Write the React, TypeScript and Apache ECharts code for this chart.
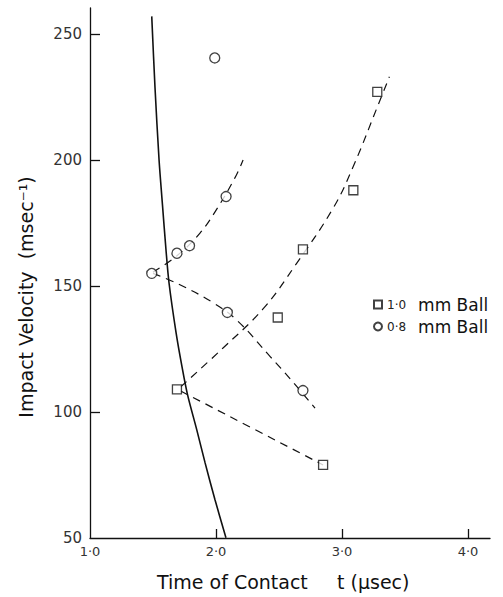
import React, { useEffect, useRef } from "react";
import * as echarts from "echarts";

// Data
const circleX = [1.49, 1.69, 1.79, 2.08, 1.99, 2.09, 2.69];
const circleY = [155, 163, 166, 185.5, 240.5, 139.5, 108.5];
const squareX = [1.69, 2.49, 2.85, 2.69, 3.09, 3.28];
const squareY = [109, 137.5, 79, 164.5, 188, 227];

// dashed fitted curves
const circUpX = [1.5, 1.69, 1.873, 2.006, 2.151, 2.215];
const circUpY = [155.5, 162, 171, 180.5, 193, 200];
const circLoX = [1.5, 1.7, 1.966, 2.164, 2.43, 2.6, 2.786];
const circLoY = [155, 150.8, 143.7, 136.5, 122, 112.5, 101.5];
const sqLoX = [1.72, 2.85];
const sqLoY = [108.3, 79];
const sqUpX = [1.72, 2.058, 2.375, 2.64, 2.931, 3.09, 3.288, 3.376];
const sqUpY = [110, 125.5, 141, 159, 181, 197.5, 222, 233];

// solid theoretical curve
const solidX = [1.49, 1.516, 1.548, 1.575, 1.603, 1.627, 1.683, 1.73, 1.774, 1.847, 1.913, 1.992, 2.079];
const solidY = [257, 228.7, 200.1, 182.3, 164.4, 151.3, 131.5, 118, 106.9, 93, 79.9, 65.2, 50.1];

const xTicks = [1, 2, 3, 4];
const yTicks = [50, 100, 150, 200, 250];

const seriesNames = ["1·0 mm Ball", "0·8 mm Ball"];

const zip = (xs: number[], ys: number[]) => xs.map((x, i) => [x, ys[i]]);

export default function App() {
  const ref = useRef<HTMLDivElement>(null);
  useEffect(() => {
    if (!ref.current) return;
    const chart = echarts.init(ref.current, undefined, { renderer: "svg" });
    const font = "DejaVu Sans";
    const dashed = (xs: number[], ys: number[]) => ({
      type: "line",
      data: zip(xs, ys),
      smooth: 0.4,
      showSymbol: false,
      silent: true,
      lineStyle: { color: "#111", width: 1.2, type: [8, 6] },
      z: 2,
    });
    chart.setOption({
      animation: false,
      backgroundColor: "#fff",
      grid: { left: 90, top: 8, width: 400, height: 530, containLabel: false },
      xAxis: {
        type: "value",
        min: 1,
        max: 1 + 400 / 126,
        interval: 1,
        splitLine: { show: false },
        axisLine: { show: true, onZero: false, lineStyle: { color: "#111", width: 1.3 } },
        axisTick: { show: true, inside: true, length: 9, customValues: [2, 3, 4], lineStyle: { color: "#111", width: 1.3 } },
        axisLabel: {
          customValues: xTicks,
          margin: 7,
          fontFamily: font,
          fontSize: 13,
          color: "#333",
          formatter: (v: number) => v.toFixed(1).replace(".", "·"),
        },
      },
      yAxis: {
        type: "value",
        min: 50,
        max: 50 + (530 / 126) * 50,
        interval: 50,
        splitLine: { show: false },
        axisLine: { show: true, onZero: false, lineStyle: { color: "#111", width: 1.3 } },
        axisTick: { show: true, inside: true, length: 10, customValues: [100, 150, 200, 250], lineStyle: { color: "#111", width: 1.3 } },
        axisLabel: {
          customValues: yTicks,
          margin: 8,
          fontFamily: font,
          fontSize: 15,
          color: "#333",
        },
      },
      legend: {
        orient: "vertical",
        left: 373,
        top: 296,
        padding: 0,
        itemWidth: 8,
        itemHeight: 8,
        itemGap: 5,
        data: seriesNames,
        formatter: (name: string) => {
          const parts = name.split(" ");
          return "{a|" + parts[0] + "}{b|" + parts.slice(1).join(" ") + "}";
        },
        textStyle: {
          fontFamily: font,
          color: "#111",
          rich: {
            a: { fontSize: 12, fontFamily: font, color: "#222", lineHeight: 18 },
            b: { fontSize: 17, fontFamily: font, color: "#111", lineHeight: 18, padding: [0, 0, 0, 12] },
          },
        },
      },
      graphic: [
        {
          type: "text",
          x: 26,
          y: 297,
          rotation: Math.PI / 2,
          style: {
            text: "Impact Velocity  (msec⁻¹)",
            fontFamily: font,
            fontSize: 19,
            fill: "#111",
            align: "center",
            verticalAlign: "middle",
          },
        },
        {
          type: "text",
          x: 157,
          y: 582,
          style: {
            text: "Time of Contact",
            fontFamily: font,
            fontSize: 19,
            fill: "#111",
            align: "left",
            verticalAlign: "middle",
          },
        },
        {
          type: "text",
          x: 337,
          y: 582,
          style: {
            text: "t (µsec)",
            fontFamily: font,
            fontSize: 19,
            fill: "#111",
            align: "left",
            verticalAlign: "middle",
          },
        },
      ],
      series: [
        {
          type: "line",
          name: "solid",
          data: zip(solidX, solidY),
          smooth: 0.3,
          showSymbol: false,
          silent: true,
          lineStyle: { color: "#111", width: 1.6 },
          z: 2,
        },
        dashed(circUpX, circUpY),
        dashed(circLoX, circLoY),
        dashed(sqLoX, sqLoY),
        dashed(sqUpX, sqUpY),
        {
          type: "scatter",
          name: seriesNames[0],
          data: zip(squareX, squareY),
          symbol: "rect",
          symbolSize: 9,
          itemStyle: { color: "#fff", borderColor: "#111", borderWidth: 1.3 },
          z: 5,
        },
        {
          type: "scatter",
          name: seriesNames[1],
          data: zip(circleX, circleY),
          symbol: "circle",
          symbolSize: 10,
          itemStyle: { color: "#fff", borderColor: "#111", borderWidth: 1.3 },
          z: 5,
        },
      ],
    });
    return () => chart.dispose();
  }, []);
  return <div ref={ref} style={{ width: 503, height: 597, position: "absolute", left: 0, top: 0 }} />;
}
